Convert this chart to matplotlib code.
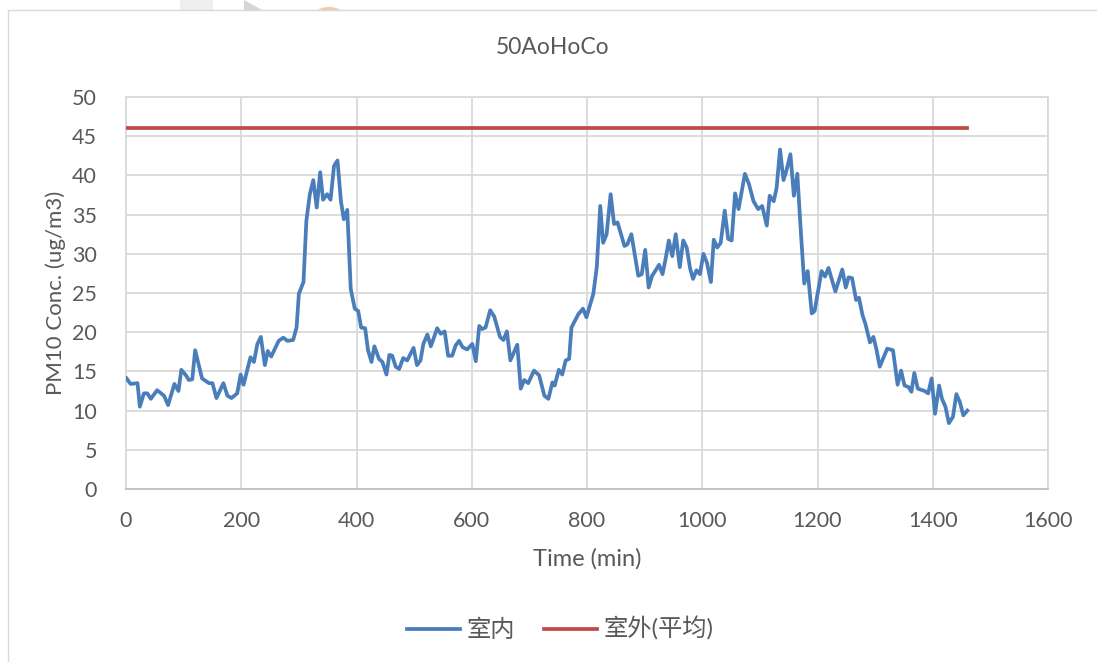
import matplotlib
matplotlib.use("Agg")
import matplotlib.pyplot as plt
from matplotlib.patches import Rectangle, Circle, Polygon

plt.rcParams['font.family'] = ['Lato', 'Noto Sans CJK SC', 'DejaVu Sans']

title = "50AoHoCo"
x_label = "Time (min)"
y_label = "PM10 Conc. (ug/m3)"
indoor_label = "室内"
outdoor_label = "室外(平均)"

time_min = [1, 8, 20, 24, 31, 37, 43, 54, 66, 73, 84, 91, 96, 104, 109, 115, 120, 132, 144, 150,
            157, 169, 176, 183, 193, 199, 204, 216, 222, 228, 234, 241, 246, 252, 265, 273, 280, 290, 296, 300,
            308, 313, 319, 325, 331, 337, 342, 349, 355, 361, 367, 373, 378, 384, 390, 397, 403, 408, 415, 420,
            426, 431, 439, 445, 452, 457, 462, 468, 474, 481, 488, 499, 505, 511, 516, 523, 529, 540, 546, 553,
            559, 566, 572, 578, 584, 592, 601, 607, 613, 618, 624, 632, 639, 649, 655, 661, 667, 679, 685, 691,
            698, 708, 717, 726, 733, 740, 744, 751, 757, 763, 769, 773, 785, 793, 799, 811, 817, 823, 828, 834,
            841, 847, 853, 865, 870, 877, 889, 895, 901, 907, 913, 921, 925, 931, 936, 942, 948, 954, 961, 967,
            973, 979, 984, 990, 996, 1002, 1008, 1015, 1020, 1026, 1032, 1039, 1045, 1051, 1057, 1063, 1074, 1081, 1089, 1097,
            1104, 1112, 1117, 1124, 1129, 1135, 1141, 1146, 1153, 1159, 1165, 1171, 1177, 1183, 1190, 1195, 1207, 1213, 1219, 1231,
            1243, 1249, 1254, 1260, 1267, 1272, 1278, 1283, 1291, 1297, 1302, 1308, 1321, 1331, 1339, 1345, 1351, 1358, 1363, 1368,
            1374, 1386, 1392, 1398, 1404, 1411, 1416, 1422, 1428, 1435, 1441, 1447, 1453, 1460]
indoor = [14.1, 13.4, 13.5, 10.5, 12.2, 12.2, 11.5, 12.6, 11.9, 10.7, 13.4, 12.5, 15.2, 14.5, 13.9, 14.0, 17.7, 14.1, 13.5, 13.5,
          11.6, 13.5, 11.9, 11.6, 12.2, 14.6, 13.3, 16.8, 16.2, 18.5, 19.4, 15.8, 17.6, 16.9, 18.9, 19.3, 18.9, 19.0, 20.6, 24.9,
          26.4, 34.2, 37.6, 39.4, 35.9, 40.4, 36.9, 37.6, 36.9, 41.2, 41.9, 36.7, 34.4, 35.6, 25.5, 23.0, 22.7, 20.6, 20.5, 17.7,
          16.2, 18.2, 16.6, 16.2, 14.6, 17.1, 17.0, 15.6, 15.3, 16.7, 16.4, 18.0, 15.8, 16.4, 18.5, 19.7, 18.2, 20.5, 19.8, 20.1,
          17.0, 17.0, 18.3, 18.9, 18.1, 17.8, 18.5, 16.3, 20.8, 20.4, 20.6, 22.8, 22.0, 19.4, 19.0, 20.1, 16.4, 18.4, 12.8, 13.9,
          13.5, 15.1, 14.5, 11.9, 11.5, 13.6, 13.2, 15.2, 14.6, 16.4, 16.6, 20.6, 22.3, 23.0, 21.9, 24.9, 28.3, 36.1, 31.4, 32.5,
          37.6, 33.8, 34.0, 31.0, 31.2, 32.5, 27.2, 27.4, 30.5, 25.7, 27.2, 28.1, 28.6, 27.4, 29.2, 31.7, 29.7, 32.5, 28.3, 31.7,
          30.8, 28.1, 26.8, 27.9, 27.4, 30.0, 28.9, 26.4, 31.8, 30.8, 31.4, 35.5, 31.9, 31.7, 37.7, 35.7, 40.2, 38.9, 36.7, 35.7,
          36.1, 33.6, 37.4, 36.7, 38.4, 43.3, 39.4, 40.6, 42.7, 37.4, 40.2, 32.9, 26.2, 27.8, 22.4, 22.7, 27.8, 27.1, 28.2, 25.2,
          28.0, 25.7, 27.0, 26.9, 24.1, 24.4, 22.2, 21.1, 18.7, 19.4, 17.9, 15.6, 17.9, 17.7, 13.3, 15.1, 13.2, 13.0, 12.4, 14.8,
          12.8, 12.5, 12.2, 14.1, 9.6, 13.2, 11.5, 10.5, 8.4, 9.2, 12.1, 11.1, 9.4, 10.0]
outdoor_time = [0, 1460]
outdoor_avg = [46.1, 46.1]

x_ticks = [0, 200, 400, 600, 800, 1000, 1200, 1400, 1600]
y_ticks = [0, 5, 10, 15, 20, 25, 30, 35, 40, 45, 50]

W, H = 1097, 662
fig = plt.figure(figsize=(W / 100, H / 100), dpi=100)
fig.patch.set_facecolor("white")

def fx(px):
    return px / W

def fy(py):
    return 1 - py / H

# faint background shapes peeking above the chart frame
fig.add_artist(Rectangle((fx(180), fy(10)), fx(33), 10 / H, transform=fig.transFigure,
                         facecolor="#EEEEEE", edgecolor="none", zorder=0))
fig.add_artist(Polygon([(fx(244), fy(0)), (fx(262), fy(10)), (fx(244), fy(10))], closed=True,
                       transform=fig.transFigure, facecolor="#D6D6D6", edgecolor="none", zorder=0))
fig.add_artist(Circle((fx(329), fy(16)), 15 / W, transform=fig.transFigure,
                      facecolor="#F6C9AE", edgecolor="none", zorder=0))
# chart frame (white with light gray border)
fig.add_artist(Rectangle((fx(8), -0.1), 1.2, fy(10) + 0.1, transform=fig.transFigure,
                         facecolor="white", edgecolor="#D9D9D9", linewidth=1.0, zorder=0.5))

ax = fig.add_axes([fx(126), fy(489), (1048 - 126) / W, (489 - 97) / H])
ax.set_zorder(2)
txt = "#595959"
grid_c = "#D9D9D9"

ax.plot(time_min, indoor, color="#4A7EBB", linewidth=2.7, label=indoor_label, solid_joinstyle="round", zorder=3)
ax.plot(outdoor_time, outdoor_avg, color="#BE4B48", linewidth=2.7, label=outdoor_label, zorder=3)

ax.set_xlim(0, 1600)
ax.set_ylim(0, 50)
ax.set_xticks(x_ticks)
ax.set_yticks(y_ticks)
ax.grid(True, color=grid_c, linewidth=1.3)
ax.set_axisbelow(True)
ax.patch.set_alpha(0)
for s in ax.spines.values():
    s.set_color(grid_c)
    s.set_linewidth(1.3)
ax.spines['bottom'].set_color("#BFBFBF")
ax.tick_params(length=0, labelsize=15.5, labelcolor=txt)
ax.tick_params(axis='y', pad=21)
ax.tick_params(axis='x', pad=16)

ax.set_xlabel(x_label, fontsize=17, color=txt, labelpad=12)
ax.set_ylabel(y_label, fontsize=16, color=txt, labelpad=4)

fig.text(553 / W, fy(48), title, ha="center", va="center", fontsize=16.5, color=txt, zorder=3)

leg = fig.legend(loc="center", bbox_to_anchor=(560 / W, fy(629)), ncol=2, frameon=False,
                 fontsize=17.5, handlelength=2.2, columnspacing=1.2, handletextpad=0.25)
for t in leg.get_texts():
    t.set_color(txt)
leg.set_zorder(3)

fig.savefig("out.png", dpi=100, facecolor="white")
